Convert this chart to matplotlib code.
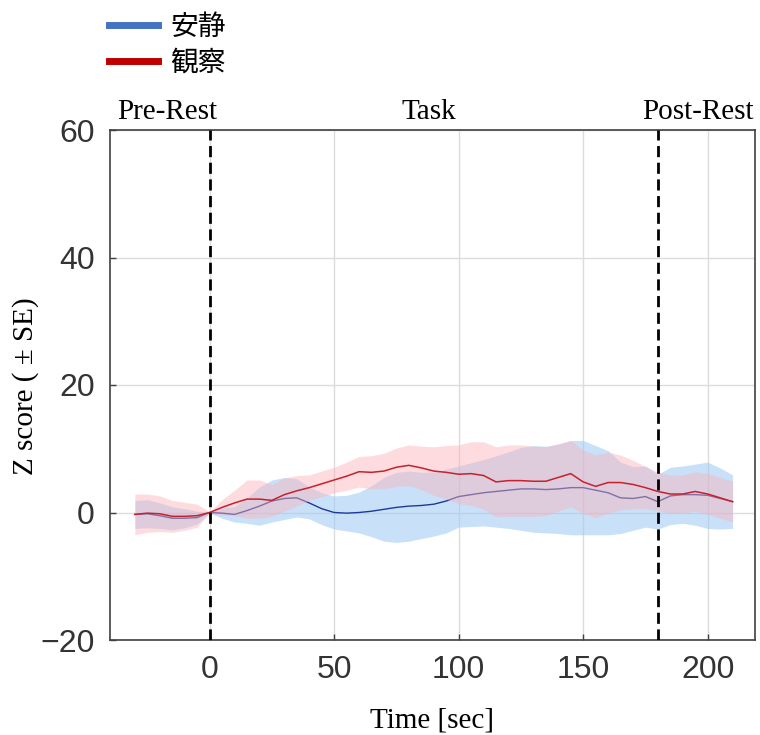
import numpy as np
import matplotlib
matplotlib.use("Agg")
import matplotlib.pyplot as plt
from matplotlib.lines import Line2D

# Time axis (seconds, 0 = task onset, 180 = task end)
time_sec = list(range(-30, 211, 5))

# 安静 (rest condition): mean Z score and standard error
rest_mean = [-0.3, -0.2, -0.5, -0.9, -0.9, -0.8, 0.0, -0.1, -0.3, 0.3,
             1.0, 1.8, 2.2, 2.3, 1.5, 0.6, 0.0, -0.1, 0.0, 0.2,
             0.5, 0.8, 1.0, 1.1, 1.3, 1.8, 2.5, 2.8, 3.1, 3.3,
             3.5, 3.7, 3.7, 3.6, 3.7, 3.9, 3.9, 3.5, 3.1, 2.3,
             2.2, 2.5, 1.7, 2.6, 2.8, 2.8, 2.7, 2.2, 1.7]
rest_se = [2.2, 2.2, 2.0, 1.8, 1.5, 1.0, 0.1, 0.8, 1.2, 2.0,
           3.0, 3.3, 3.3, 3.0, 2.5, 2.5, 2.6, 2.8, 3.2, 4.0,
           5.0, 5.5, 5.5, 5.2, 5.0, 5.0, 4.8, 5.0, 5.2, 5.6,
           6.0, 6.5, 6.8, 6.8, 7.0, 7.4, 7.4, 7.0, 6.6, 5.6,
           5.0, 4.8, 4.3, 4.5, 4.5, 4.8, 5.2, 4.8, 4.2]

# 観察 (observation condition): mean Z score and standard error
obs_mean = [-0.3, -0.1, -0.2, -0.6, -0.6, -0.5, 0.0, 0.8, 1.5, 2.1,
            2.1, 1.9, 2.8, 3.4, 3.9, 4.5, 5.1, 5.7, 6.4, 6.3,
            6.5, 7.1, 7.4, 7.0, 6.5, 6.3, 6.0, 6.1, 5.8, 4.8,
            5.0, 5.0, 4.9, 4.9, 5.5, 6.1, 4.8, 4.1, 4.7, 4.7,
            4.4, 3.9, 3.3, 2.9, 2.9, 3.3, 2.9, 2.3, 1.7]
obs_se = [3.2, 3.0, 2.8, 2.5, 2.2, 1.8, 0.1, 1.2, 2.0, 3.0,
          3.0, 2.5, 2.6, 2.4, 2.0, 2.0, 2.0, 2.2, 2.4, 2.6,
          2.8, 3.0, 3.2, 3.4, 3.8, 4.2, 4.6, 5.0, 5.3, 5.5,
          5.6, 5.6, 5.5, 5.4, 5.3, 5.2, 5.0, 4.9, 4.8, 4.3,
          3.8, 3.3, 3.0, 3.0, 3.0, 3.1, 3.2, 3.2, 3.2]

condition_labels = ["安静", "観察"]
phase_labels = ["Pre-Rest", "Task", "Post-Rest"]
phase_label_x = [-17, 88, 196]
phase_bounds = [0, 180]
x_ticks = [0, 50, 100, 150, 200]
y_ticks = [-20, 0, 20, 40, 60]

t = np.array(time_sec, dtype=float)
rm, rs = np.array(rest_mean), np.array(rest_se)
om, os_ = np.array(obs_mean), np.array(obs_se)

serif = ["Liberation Serif", "DejaVu Serif"]
sans = ["Liberation Sans", "DejaVu Sans"]
cjk = ["Noto Sans CJK JP", "DejaVu Sans"]

fig = plt.figure(figsize=(7.6, 7.35), dpi=100)
ax = fig.add_axes([110 / 760, 95 / 735, 645 / 760, 510 / 735])

# Shaded ±SE bands and mean traces
ax.fill_between(t, rm - rs, rm + rs, color="#9ccaf5", alpha=0.55, lw=0, zorder=2)
ax.plot(t, rm, color="#1f3a96", lw=1.0, zorder=3)
ax.fill_between(t, om - os_, om + os_, color="#fbb1b8", alpha=0.45, lw=0, zorder=4)
ax.plot(t, om, color="#c8202c", lw=1.1, zorder=5)

# Phase boundaries
for xb in phase_bounds:
    ax.axvline(xb, color="black", lw=2, dashes=(4, 2), zorder=6)

ax.set_xlim(-40, 219)
ax.set_ylim(-20, 60)
ax.set_xticks(x_ticks)
ax.set_yticks(y_ticks)
ax.grid(True, color="#dcdcdc", lw=1.0, zorder=0)
ax.set_axisbelow(True)

for s in ax.spines.values():
    s.set_color("#404040")
    s.set_linewidth(1.2)

ax.tick_params(direction="in", length=4, width=1, color="#404040",
               labelsize=23, labelcolor="#333333", pad=11)
for lab in ax.get_xticklabels() + ax.get_yticklabels():
    lab.set_family(sans)

ax.set_xlabel("Time [sec]", fontsize=21, family=serif, labelpad=16)
fig.text(26 / 760, 1 - 386 / 735, "Z score ( ± SE)", rotation=90,
         ha="center", va="center", fontsize=21, family=serif)

for lx, lab in zip(phase_label_x, phase_labels):
    ax.text(lx, 60.8, lab, ha="center", va="bottom", fontsize=21, family=serif)

handles = [Line2D([], [], color="#4472c4", lw=5),
           Line2D([], [], color="#c00000", lw=5)]
leg = fig.legend(handles, condition_labels, loc="upper left",
                 bbox_to_anchor=(98 / 760, 1 - 1 / 735), frameon=False,
                 prop={"family": cjk, "size": 20}, handlelength=1.75,
                 handletextpad=0.45, labelspacing=0.2, borderaxespad=0)

fig.savefig("out.png", dpi=100)
